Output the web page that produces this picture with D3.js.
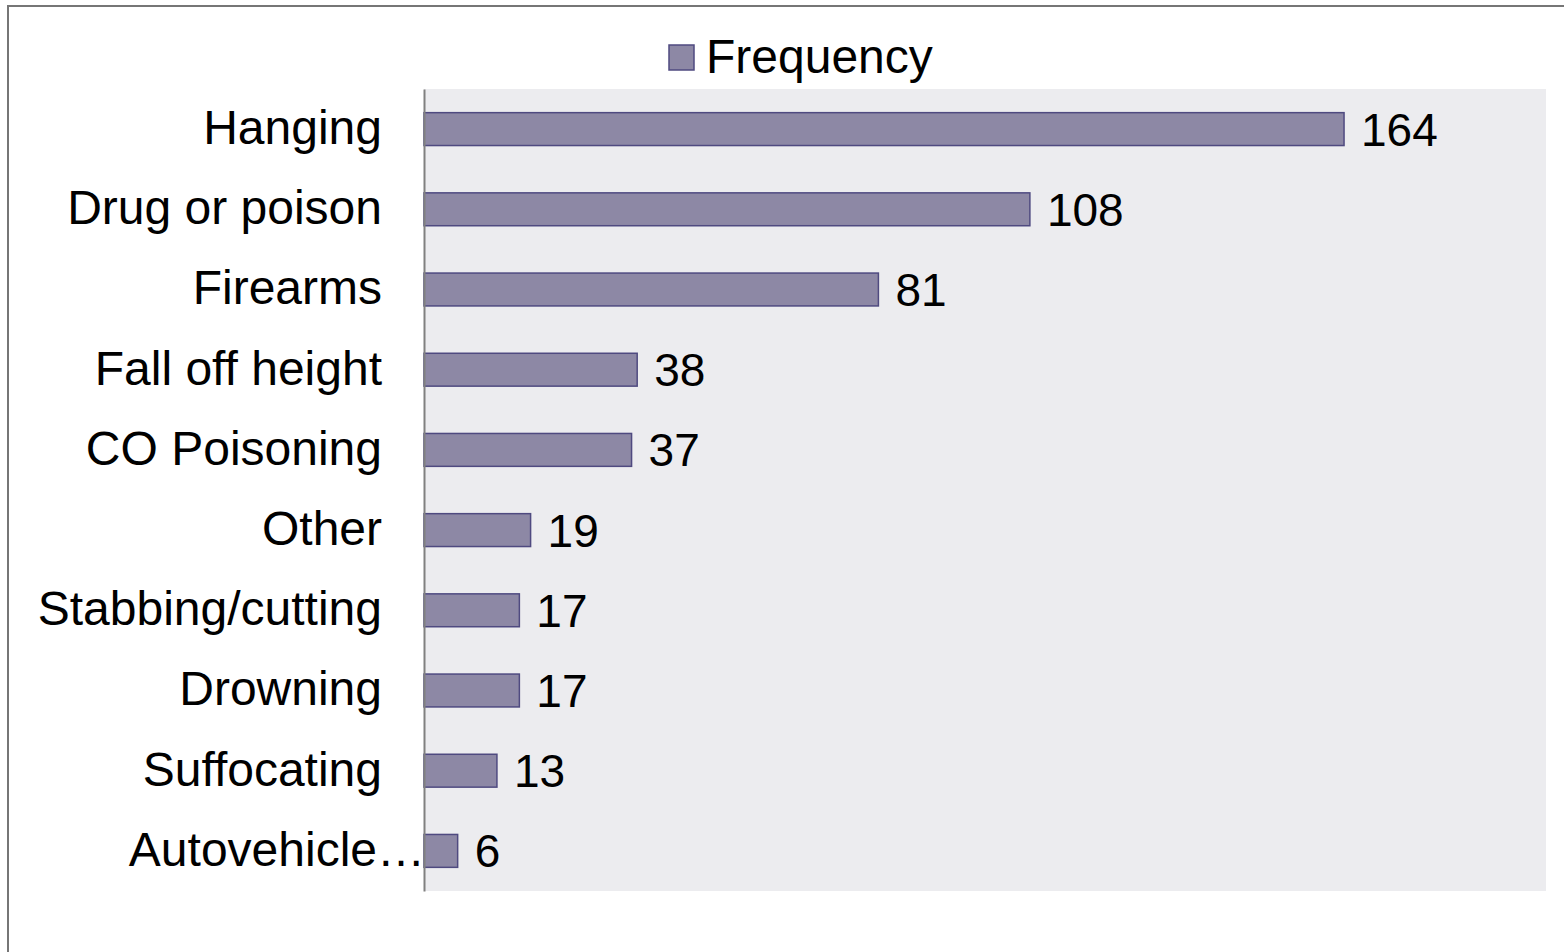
<!DOCTYPE html>
<html>
<head>
<meta charset="utf-8">
<script src="https://cdn.jsdelivr.net/npm/d3@7"></script>
<style>
  body { margin: 0; background: #fff; }
  svg text { font-family: "Liberation Sans", Arial, sans-serif; fill: #000; }
</style>
</head>
<body>
<div id="chart"></div>
<script>
const WIDTH = 1564;
const HEIGHT = 952;
const PLOT = { left: 424, right: 1546, top: 89, bottom: 891 };

// methods and counts, top to bottom as drawn
const categories = ['Hanging', 'Drug or poison', 'Firearms', 'Fall off height', 'CO Poisoning',
  'Other', 'Stabbing/cutting', 'Drowning', 'Suffocating', 'Autovehicle…'];
const frequency = [164, 108, 81, 38, 37, 19, 17, 17, 13, 6];
const seriesName = 'Frequency';
const xDomain = [0, 200];

const rows = categories.map((c, i) => ({ category: c, value: frequency[i] }));

const svg = d3.select('#chart')
  .append('svg')
  .attr('width', WIDTH)
  .attr('height', HEIGHT);

// outer chart border
svg.append('rect')
  .attr('x', 8)
  .attr('y', 6)
  .attr('width', WIDTH + 100)
  .attr('height', HEIGHT + 100)
  .attr('fill', '#fff')
  .attr('stroke', '#767676')
  .attr('stroke-width', 2);

// plot background
svg.append('rect')
  .attr('x', PLOT.left)
  .attr('y', PLOT.top)
  .attr('width', PLOT.right - PLOT.left)
  .attr('height', PLOT.bottom - PLOT.top)
  .attr('fill', '#ececef');

const xScale = d3.scaleLinear()
  .domain(xDomain)
  .range([PLOT.left, PLOT.right]);

const yScale = d3.scaleBand()
  .domain(categories)
  .range([PLOT.top, PLOT.bottom])
  .paddingInner(0.59)
  .paddingOuter(0.295);

// bars
svg.selectAll('rect.bar')
  .data(rows)
  .enter()
  .append('rect')
  .attr('class', 'bar')
  .attr('x', xScale(0))
  .attr('y', d => yScale(d.category))
  .attr('width', d => xScale(d.value) - xScale(0))
  .attr('height', yScale.bandwidth())
  .attr('fill', '#8d88a5')
  .attr('stroke', '#4f4a80')
  .attr('stroke-width', 1.5);

// value labels
svg.selectAll('text.value')
  .data(rows)
  .enter()
  .append('text')
  .attr('class', 'value')
  .attr('x', d => xScale(d.value) + 17)
  .attr('y', d => yScale(d.category) + yScale.bandwidth() / 2)
  .attr('dy', '0.36em')
  .attr('font-size', 46)
  .text(d => d.value);

// category axis
const yAxis = d3.axisLeft(yScale).tickSize(0).tickPadding(42);
const yG = svg.append('g')
  .attr('transform', `translate(${PLOT.left}, 0)`)
  .call(yAxis);
yG.select('.domain')
  .attr('stroke', '#808080')
  .attr('stroke-width', 2);
yG.selectAll('text')
  .attr('font-size', 48)
  .attr('dy', '0.31em')
  .attr('x', d => d === 'Autovehicle…' ? 1 : -42);

// legend
const legend = svg.append('g');
legend.append('rect')
  .attr('x', 669)
  .attr('y', 45)
  .attr('width', 25)
  .attr('height', 25)
  .attr('fill', '#8d88a5')
  .attr('stroke', '#4f4a80')
  .attr('stroke-width', 1.5);
legend.append('text')
  .attr('x', 706)
  .attr('y', 73)
  .attr('font-size', 48)
  .text(seriesName);
</script>
</body>
</html>
